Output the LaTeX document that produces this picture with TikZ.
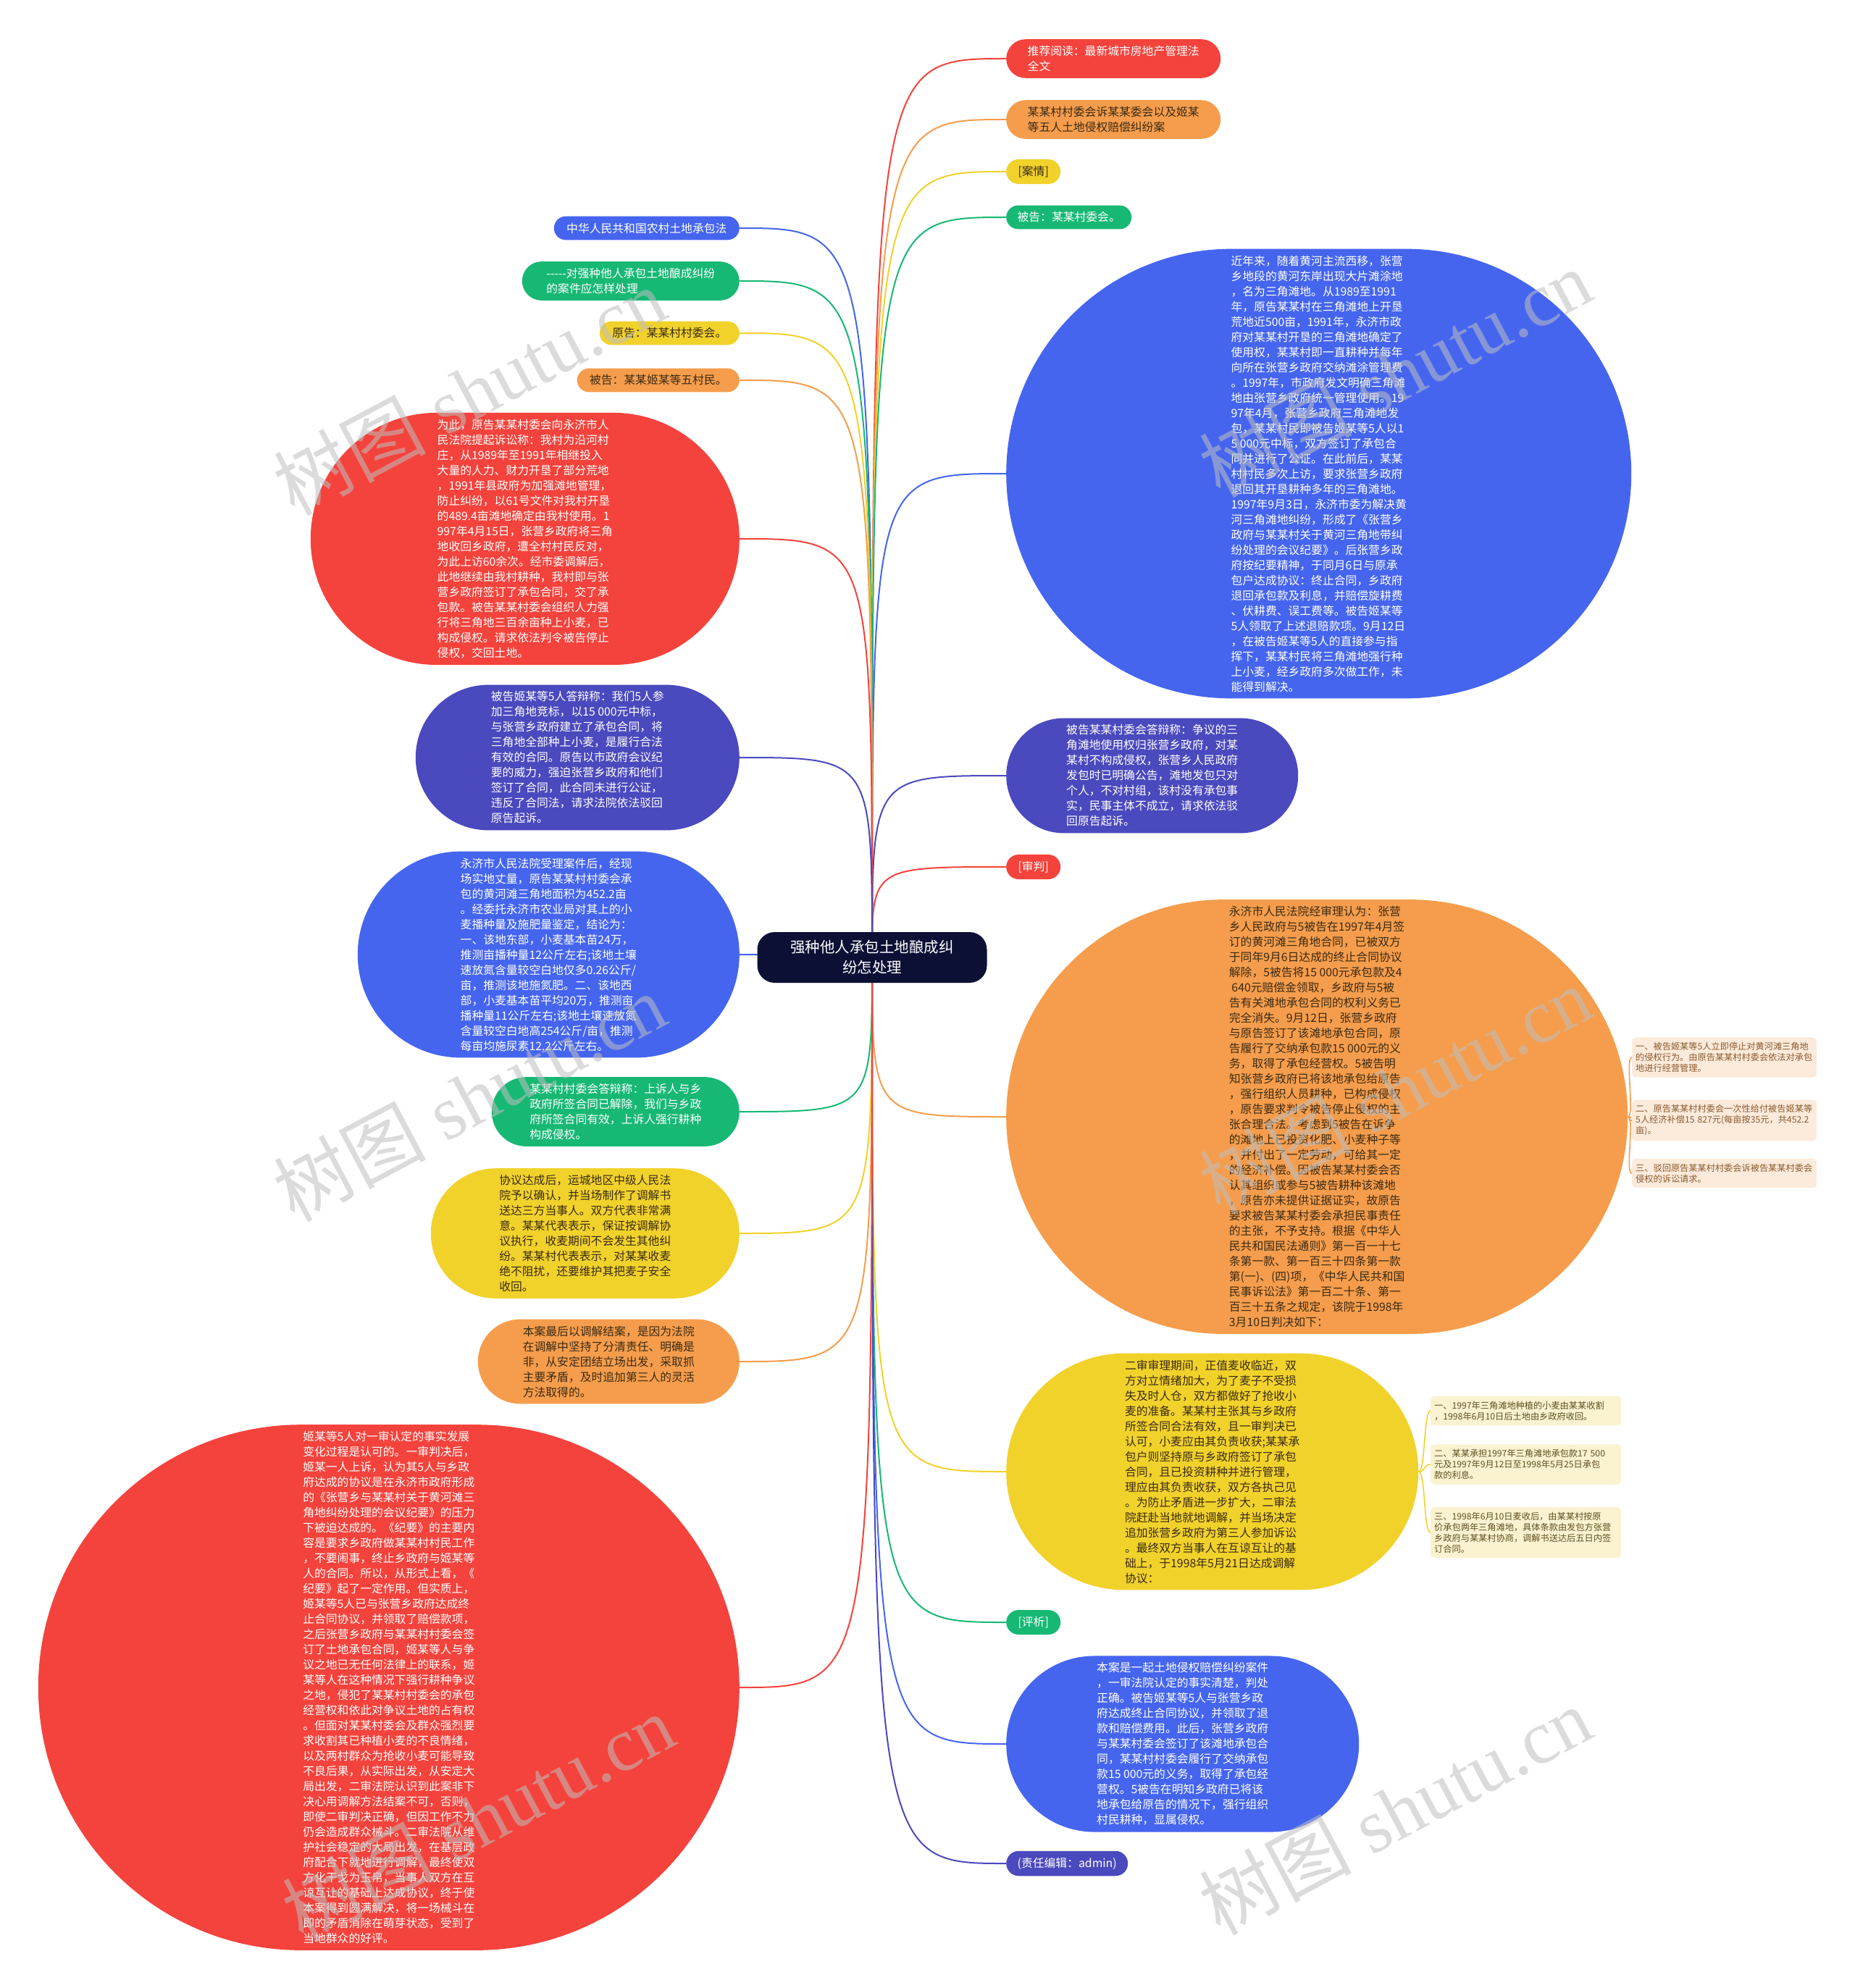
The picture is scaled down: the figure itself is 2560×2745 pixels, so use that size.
\documentclass[tikz,border=0pt]{standalone}
\usepackage{fontspec}
\setmainfont{Liberation Serif}
\newfontfamily\cjk{Noto Sans CJK SC}
\usetikzlibrary{shapes.misc,backgrounds}

\definecolor{mmred}{HTML}{F4433C}
\definecolor{mmorange}{HTML}{F59D4C}
\definecolor{mmyellow}{HTML}{F1D22B}
\definecolor{mmgreen}{HTML}{17B874}
\definecolor{mmblue}{HTML}{4565EF}
\definecolor{mmpurple}{HTML}{4A49BE}
\definecolor{mmnavy}{HTML}{0B1034}
\definecolor{mmink}{HTML}{3A2A14}
\definecolor{peach}{HTML}{FCEADB}
\definecolor{peachink}{HTML}{8A5B2E}
\definecolor{cream}{HTML}{FBF2D0}
\definecolor{creamink}{HTML}{5E5020}

\tikzset{
  blob/.style={rounded rectangle, fill=#1, inner xsep=0pt, inner ysep=9pt, align=left,
    font=\cjk\fontsize{15.8}{21}\selectfont},
  whitepill/.style={blob=#1, text=white},
  darkpill/.style={blob=#1, text=mmink},
  rootbox/.style={fill=mmnavy, text=white, rounded corners=24pt, minimum width=317pt,
    minimum height=70pt, align=center, font=\cjk\fontsize{20.5}{28}\selectfont},
  rulenote/.style={rectangle, rounded corners=6pt, fill=peach, text=peachink, text width=245pt,
    inner xsep=5pt, inner ysep=7pt, align=left, font=\cjk\fontsize{12.2}{15}\selectfont},
  dealnote/.style={rulenote, fill=cream, text=creamink, text width=253pt},
  branch/.style={draw=#1, line width=2pt},
  twig/.style={draw=#1, line width=1.6pt},
  watermark/.style={rotate=28, text=black!25, text opacity=0.55,
    font=\fontsize{105}{105}\selectfont}
}

\begin{document}
\begin{tikzpicture}[x=1pt, y=-1pt]
    \useasboundingbox (0,0) rectangle (2560,2745);

    % centre
    \node[rootbox] (root) at (1204,1322) {强种他人承包土地酿成纠\\纷怎处理};

    % right branches
    \node[whitepill=mmred, anchor=west, minimum width=296pt] (readmore) at (1389,81) {推荐阅读：最新城市房地产管理法\\全文};
    \node[darkpill=mmorange, anchor=west, minimum width=296pt] (casename) at (1389,165) {某某村村委会诉某某委会以及姬某\\等五人土地侵权赔偿纠纷案};
    \node[darkpill=mmyellow, anchor=west, minimum width=75pt] (anqing) at (1389,237) {[案情]};
    \node[whitepill=mmgreen, anchor=west, minimum width=173pt] (defvc) at (1389,300) {被告：某某村委会。};
    \node[whitepill=mmblue, anchor=west, minimum width=863pt] (facts) at (1389,654) {近年来，随着黄河主流西移，张营\\乡地段的黄河东岸出现大片滩涂地\\，名为三角滩地。从1989至1991\\年，原告某某村在三角滩地上开垦\\荒地近500亩，1991年，永济市政\\府对某某村开垦的三角滩地确定了\\使用权，某某村即一直耕种并每年\\向所在张营乡政府交纳滩涂管理费\\。1997年，市政府发文明确三角滩\\地由张营乡政府统一管理使用。19\\97年4月，张营乡政府三角滩地发\\包，某某村民即被告姬某等5人以1\\5 000元中标，双方签订了承包合\\同并进行了公证。在此前后，某某\\村村民多次上访，要求张营乡政府\\退回其开垦耕种多年的三角滩地。\\1997年9月3日，永济市委为解决黄\\河三角滩地纠纷，形成了《张营乡\\政府与某某村关于黄河三角地带纠\\纷处理的会议纪要》。后张营乡政\\府按纪要精神，于同月6日与原承\\包户达成协议：终止合同，乡政府\\退回承包款及利息，并赔偿旋耕费\\、伏耕费、误工费等。被告姬某等\\5人领取了上述退赔款项。9月12日\\，在被告姬某等5人的直接参与指\\挥下，某某村民将三角滩地强行种\\上小麦，经乡政府多次做工作，未\\能得到解决。};
    \node[whitepill=mmpurple, anchor=west, minimum width=403pt] (vcreply) at (1389,1071) {被告某某村委会答辩称：争议的三\\角滩地使用权归张营乡政府，对某\\某村不构成侵权，张营乡人民政府\\发包时已明确公告，滩地发包只对\\个人，不对村组，该村没有承包事\\实，民事主体不成立，请求依法驳\\回原告起诉。};
    \node[whitepill=mmred, anchor=west, minimum width=75pt] (shenpan) at (1389,1197) {[审判]};
    \node[darkpill=mmorange, anchor=west, minimum width=858pt] (ruling) at (1389,1542) {永济市人民法院经审理认为：张营\\乡人民政府与5被告在1997年4月签\\订的黄河滩三角地合同，已被双方\\于同年9月6日达成的终止合同协议\\解除，5被告将15 000元承包款及4\\\ 640元赔偿金领取，乡政府与5被\\告有关滩地承包合同的权利义务已\\完全消失。9月12日，张营乡政府\\与原告签订了该滩地承包合同，原\\告履行了交纳承包款15 000元的义\\务，取得了承包经营权。5被告明\\知张营乡政府已将该地承包给原告\\，强行组织人员耕种，已构成侵权\\，原告要求判令被告停止侵权的主\\张合理合法。考虑到5被告在诉争\\的滩地上已投资化肥、小麦种子等\\，并付出了一定劳动，可给其一定\\的经济补偿。因被告某某村委会否\\认其组织或参与5被告耕种该滩地\\，原告亦未提供证据证实，故原告\\要求被告某某村委会承担民事责任\\的主张，不予支持。根据《中华人\\民共和国民法通则》第一百一十七\\条第一款、第一百三十四条第一款\\第(一)、(四)项，《中华人民共和国\\民事诉讼法》第一百二十条、第一\\百三十五条之规定，该院于1998年\\3月10日判决如下：};
    \node[darkpill=mmyellow, anchor=west, minimum width=569pt] (second) at (1389,2032) {二审审理期间，正值麦收临近，双\\方对立情绪加大，为了麦子不受损\\失及时人仓，双方都做好了抢收小\\麦的准备。某某村主张其与乡政府\\所签合同合法有效，且一审判决已\\认可，小麦应由其负责收获;某某承\\包户则坚持原与乡政府签订了承包\\合同，且已投资耕种并进行管理，\\理应由其负责收获，双方各执己见\\。为防止矛盾进一步扩大，二审法\\院赶赴当地就地调解，并当场决定\\追加张营乡政府为第三人参加诉讼\\。最终双方当事人在互谅互让的基\\础上，于1998年5月21日达成调解\\协议：};
    \node[whitepill=mmgreen, anchor=west, minimum width=75pt] (pingxi) at (1389,2240) {[评析]};
    \node[whitepill=mmblue, anchor=west, minimum width=487pt] (review) at (1389,2408) {本案是一起土地侵权赔偿纠纷案件\\，一审法院认定的事实清楚，判处\\正确。被告姬某等5人与张营乡政\\府达成终止合同协议，并领取了退\\款和赔偿费用。此后，张营乡政府\\与某某村委会签订了该滩地承包合\\同，某某村村委会履行了交纳承包\\款15 000元的义务，取得了承包经\\营权。5被告在明知乡政府已将该\\地承包给原告的情况下，强行组织\\村民耕种，显属侵权。};
    \node[whitepill=mmpurple, anchor=west, minimum width=168pt] (editor) at (1389,2573) {(责任编辑：admin)};

    % judgment items
    \node[rulenote, anchor=west] (rule1) at (2253,1460) {一、被告姬某等5人立即停止对黄河滩三角地\\的侵权行为。由原告某某村村委会依法对承包\\地进行经营管理。};
    \node[rulenote, anchor=west] (rule2) at (2253,1547) {二、原告某某村村委会一次性给付被告姬某等\\5人经济补偿15~827元(每亩按35元，共452.2\\亩)。};
    \node[rulenote, anchor=west] (rule3) at (2253,1620) {三、驳回原告某某村村委会诉被告某某村委会\\侵权的诉讼请求。};

    % mediation items
    \node[dealnote, anchor=west] (deal1) at (1975,1948) {一、1997年三角滩地种植的小麦由某某收割\\，1998年6月10日后土地由乡政府收回。};
    \node[dealnote, anchor=west] (deal2) at (1975,2022) {二、某某承担1997年三角滩地承包款17~500\\元及1997年9月12日至1998年5月25日承包\\款的利息。};
    \node[dealnote, anchor=west] (deal3) at (1975,2116) {三、1998年6月10日麦收后，由某某村按原\\价承包两年三角滩地，具体条款由发包方张营\\乡政府与某某村协商，调解书送达后五日内签\\订合同。};

    % left branches
    \node[whitepill=mmblue, anchor=east, minimum width=256pt] (lawname) at (1021,315) {中华人民共和国农村土地承包法};
    \node[whitepill=mmgreen, anchor=east, minimum width=300pt] (subtitle) at (1021,388) {\mbox{-}\mbox{-}\mbox{-}\mbox{-}\mbox{-}对强种他人承包土地酿成纠纷\\的案件应怎样处理};
    \node[darkpill=mmyellow, anchor=east, minimum width=193pt] (plaintiff) at (1021,460) {原告：某某村村委会。};
    \node[darkpill=mmorange, anchor=east, minimum width=224pt] (defendants) at (1021,525) {被告：某某姬某等五村民。};
    \node[whitepill=mmred, anchor=east, minimum width=592pt] (claim) at (1021,744) {为此，原告某某村委会向永济市人\\民法院提起诉讼称：我村为沿河村\\庄，从1989年至1991年相继投入\\大量的人力、财力开垦了部分荒地\\，1991年县政府为加强滩地管理，\\防止纠纷，以61号文件对我村开垦\\的489.4亩滩地确定由我村使用。1\\997年4月15日，张营乡政府将三角\\地收回乡政府，遭全村村民反对，\\为此上访60余次。经市委调解后，\\此地继续由我村耕种，我村即与张\\营乡政府签订了承包合同，交了承\\包款。被告某某村委会组织人力强\\行将三角地三百余亩种上小麦，已\\构成侵权。请求依法判令被告停止\\侵权，交回土地。};
    \node[whitepill=mmpurple, anchor=east, minimum width=447pt] (fivereply) at (1021,1046) {被告姬某等5人答辩称：我们5人参\\加三角地竞标，以15 000元中标，\\与张营乡政府建立了承包合同，将\\三角地全部种上小麦，是履行合法\\有效的合同。原告以市政府会议纪\\要的威力，强迫张营乡政府和他们\\签订了合同，此合同未进行公证，\\违反了合同法，请求法院依法驳回\\原告起诉。};
    \node[whitepill=mmblue, anchor=east, minimum width=527pt] (survey) at (1021,1318) {永济市人民法院受理案件后，经现\\场实地丈量，原告某某村村委会承\\包的黄河滩三角地面积为452.2亩\\。经委托永济市农业局对其上的小\\麦播种量及施肥量鉴定，结论为：\\一、该地东部，小麦基本苗24万，\\推测亩播种量12公斤左右;该地土壤\\速放氮含量较空白地仅多0.26公斤/\\亩，推测该地施氮肥。二、该地西\\部，小麦基本苗平均20万，推测亩\\播种量11公斤左右;该地土壤速放氮\\含量较空白地高254公斤/亩，推测\\每亩均施尿素12.2公斤左右。};
    \node[whitepill=mmgreen, anchor=east, minimum width=342pt] (appeal) at (1021,1535) {某某村村委会答辩称：上诉人与乡\\政府所签合同已解除，我们与乡政\\府所签合同有效，上诉人强行耕种\\构成侵权。};
    \node[darkpill=mmyellow, anchor=east, minimum width=426pt] (confirm) at (1021,1703) {协议达成后，运城地区中级人民法\\院予以确认，并当场制作了调解书\\送达三方当事人。双方代表非常满\\意。某某代表表示，保证按调解协\\议执行，收麦期间不会发生其他纠\\纷。某某村代表表示，对某某收麦\\绝不阻扰，还要维护其把麦子安全\\收回。};
    \node[darkpill=mmorange, anchor=east, minimum width=361pt] (mediate) at (1021,1880) {本案最后以调解结案，是因为法院\\在调解中坚持了分清责任、明确是\\非，从安定团结立场出发，采取抓\\主要矛盾，及时追加第三人的灵活\\方法取得的。};
    \node[whitepill=mmred, anchor=east, minimum width=968pt] (comment) at (1021,2330) {姬某等5人对一审认定的事实发展\\变化过程是认可的。一审判决后，\\姬某一人上诉，认为其5人与乡政\\府达成的协议是在永济市政府形成\\的《张营乡与某某村关于黄河滩三\\角地纠纷处理的会议纪要》的压力\\下被迫达成的。《纪要》的主要内\\容是要求乡政府做某某村村民工作\\，不要闹事，终止乡政府与姬某等\\人的合同。所以，从形式上看，《\\纪要》起了一定作用。但实质上，\\姬某等5人已与张营乡政府达成终\\止合同协议，并领取了赔偿款项，\\之后张营乡政府与某某村村委会签\\订了土地承包合同，姬某等人与争\\议之地已无任何法律上的联系，姬\\某等人在这种情况下强行耕种争议\\之地，侵犯了某某村村委会的承包\\经营权和依此对争议土地的占有权\\。但面对某某村委会及群众强烈要\\求收割其已种植小麦的不良情绪，\\以及两村群众为抢收小麦可能导致\\不良后果，从实际出发，从安定大\\局出发，二审法院认识到此案非下\\决心用调解方法结案不可，否则，\\即使二审判决正确，但因工作不力\\仍会造成群众械斗。二审法院从维\\护社会稳定的大局出发，在基层政\\府配合下就地进行调解，最终使双\\方化干戈为玉帛，当事人双方在互\\谅互让的基础上达成协议，终于使\\本案得到圆满解决，将一场械斗在\\即的矛盾消除在萌芽状态，受到了\\当地群众的好评。};

    \begin{scope}[on background layer]
        \fill[white] (0,0) rectangle (2560,2745);

        % connectors to the right
        \draw[branch=mmred] (root.center) .. controls (root.center |- readmore.west) .. (readmore.west);
        \draw[branch=mmorange] (root.center) .. controls (root.center |- casename.west) .. (casename.west);
        \draw[branch=mmyellow] (root.center) .. controls (root.center |- anqing.west) .. (anqing.west);
        \draw[branch=mmgreen] (root.center) .. controls (root.center |- defvc.west) .. (defvc.west);
        \draw[branch=mmblue] (root.center) .. controls (root.center |- facts.west) .. (facts.west);
        \draw[branch=mmpurple] (root.center) .. controls (root.center |- vcreply.west) .. (vcreply.west);
        \draw[branch=mmred] (root.center) .. controls (root.center |- shenpan.west) .. (shenpan.west);
        \draw[branch=mmorange] (root.center) .. controls (root.center |- ruling.west) .. (ruling.west);
        \draw[branch=mmyellow] (root.center) .. controls (root.center |- second.west) .. (second.west);
        \draw[branch=mmgreen] (root.center) .. controls (root.center |- pingxi.west) .. (pingxi.west);
        \draw[branch=mmblue] (root.center) .. controls (root.center |- review.west) .. (review.west);
        \draw[branch=mmpurple] (root.center) .. controls (root.center |- editor.west) .. (editor.west);

        % connectors to the left
        \draw[branch=mmblue] (root.center) .. controls (root.center |- lawname.east) .. (lawname.east);
        \draw[branch=mmgreen] (root.center) .. controls (root.center |- subtitle.east) .. (subtitle.east);
        \draw[branch=mmyellow] (root.center) .. controls (root.center |- plaintiff.east) .. (plaintiff.east);
        \draw[branch=mmorange] (root.center) .. controls (root.center |- defendants.east) .. (defendants.east);
        \draw[branch=mmred] (root.center) .. controls (root.center |- claim.east) .. (claim.east);
        \draw[branch=mmpurple] (root.center) .. controls (root.center |- fivereply.east) .. (fivereply.east);
        \draw[branch=mmblue] (root.center) .. controls (root.center |- survey.east) .. (survey.east);
        \draw[branch=mmgreen] (root.center) .. controls (root.center |- appeal.east) .. (appeal.east);
        \draw[branch=mmyellow] (root.center) .. controls (root.center |- confirm.east) .. (confirm.east);
        \draw[branch=mmorange] (root.center) .. controls (root.center |- mediate.east) .. (mediate.east);
        \draw[branch=mmred] (root.center) .. controls (root.center |- comment.east) .. (comment.east);

        % brackets to the items
        \draw[twig=mmorange] (ruling.east) .. controls +(10,0) and +(-10,0) .. (rule1.west);
        \draw[twig=mmorange] (ruling.east) .. controls +(10,0) and +(-10,0) .. (rule2.west);
        \draw[twig=mmorange] (ruling.east) .. controls +(10,0) and +(-10,0) .. (rule3.west);
        \draw[twig=mmyellow] (second.east) .. controls +(10,0) and +(-10,0) .. (deal1.west);
        \draw[twig=mmyellow] (second.east) .. controls +(10,0) and +(-10,0) .. (deal2.west);
        \draw[twig=mmyellow] (second.east) .. controls +(10,0) and +(-10,0) .. (deal3.west);
    \end{scope}

    % watermarks
    \node[watermark] (wm1) at (648,540) {{\cjk 树图} shutu.cn};
    \node[watermark] (wm2) at (1926,515) {{\cjk 树图} shutu.cn};
    \node[watermark] (wm3) at (648,1515) {{\cjk 树图} shutu.cn};
    \node[watermark] (wm4) at (1926,1505) {{\cjk 树图} shutu.cn};
    \node[watermark] (wm5) at (660,2510) {{\cjk 树图} shutu.cn};
    \node[watermark] (wm6) at (1926,2500) {{\cjk 树图} shutu.cn};
\end{tikzpicture}
\end{document}
